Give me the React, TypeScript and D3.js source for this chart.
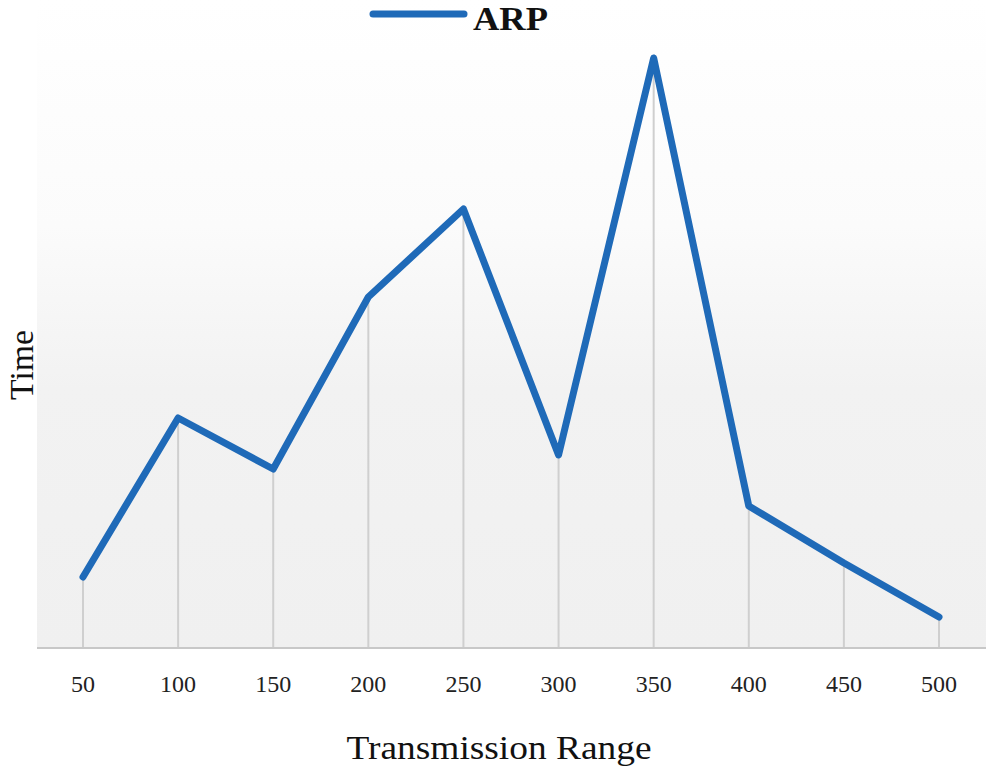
import React from 'react';
import * as d3 from 'd3';

const ranges = [50, 100, 150, 200, 250, 300, 350, 400, 450, 500];
const arpTime = [0.71, 2.3, 1.79, 3.51, 4.39, 1.93, 5.9, 1.42, 0.85, 0.31];
const seriesName = 'ARP';

const W = 991;
const H = 774;
const margin = { top: 0, right: 5, bottom: 126, left: 37 };
const serif = '"Liberation Serif", "DejaVu Serif", serif';

export default function App() {
    const plotW = W - margin.left - margin.right;
    const plotH = H - margin.top - margin.bottom;

    const x = d3.scalePoint<number>()
        .domain(ranges)
        .range([46, plotW - 47]);

    const y = d3.scaleLinear()
        .domain([0, 6])
        .range([plotH, plotH - 600]);

    const line = d3.line<number>()
        .x((d, i) => x(ranges[i]) as number)
        .y(d => y(d));

    return (
        <svg width={W} height={H} style={{ position: 'absolute', left: 0, top: 0 }}>
            <defs>
                <linearGradient id="bg" x1="0" y1="0" x2="0" y2="1">
                    <stop offset="0" stopColor="#ffffff" />
                    <stop offset="0.35" stopColor="#fbfbfb" />
                    <stop offset="0.6" stopColor="#f2f2f2" />
                    <stop offset="1" stopColor="#f0f0f0" />
                </linearGradient>
            </defs>
            <rect x={0} y={0} width={W} height={H} fill="#fff" />
            <g transform={`translate(${margin.left},${margin.top})`}>
                <rect x={0} y={0} width={plotW} height={plotH} fill="url(#bg)" />
                {/* drop lines */}
                {arpTime.map((v, i) => (
                    <line key={i}
                        x1={x(ranges[i])} x2={x(ranges[i])}
                        y1={y(v)} y2={plotH}
                        stroke="#cfcfcf" strokeWidth={2} />
                ))}
                <line x1={0} x2={plotW} y1={plotH} y2={plotH} stroke="#c8c8c8" strokeWidth={2} />
                {ranges.map(r => (
                    <text key={r} x={x(r)} y={plotH + 44} textAnchor="middle"
                        fontFamily={serif} fontSize={24} fill="#222">{r}</text>
                ))}
                <path d={line(arpTime) || ''} fill="none" stroke="#1f6ab8"
                    strokeWidth={7} strokeLinejoin="round" strokeLinecap="round" />
            </g>
            <text x={499} y={759} textAnchor="middle" textLength={305} lengthAdjust="spacingAndGlyphs"
                fontFamily={serif} fontSize={34} fill="#111">Transmission Range</text>
            <text transform={`translate(33,365) rotate(-90)`} textAnchor="middle"
                textLength={70} lengthAdjust="spacingAndGlyphs"
                fontFamily={serif} fontSize={33} fill="#111">Time</text>
            {/* legend */}
            <line x1={373} x2={464} y1={14} y2={14} stroke="#1f6ab8" strokeWidth={7} strokeLinecap="round" />
            <text x={473} y={29.5} textLength={75} lengthAdjust="spacingAndGlyphs"
                fontFamily={serif} fontSize={33} fontWeight="bold" fill="#111">{seriesName}</text>
        </svg>
    );
}
